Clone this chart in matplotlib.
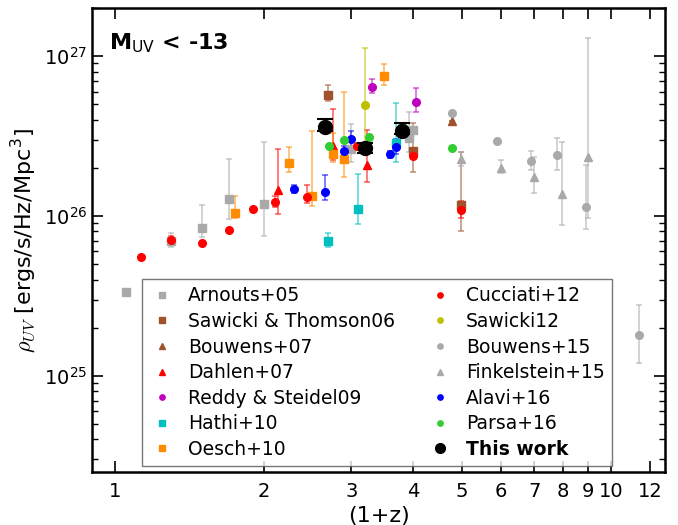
import matplotlib
matplotlib.use("Agg")
import matplotlib.pyplot as plt
import numpy as np
from matplotlib.ticker import FixedLocator, FixedFormatter, NullLocator

# ---------------- data (1+z, rho, lower, upper) ----------------
arnouts_x = [1.052, 1.30, 1.50, 1.70, 2.00, 3.00, 4.00, 3.91]
arnouts_y = [3.33e25, 6.92e25, 8.41e25, 1.28e26, 1.19e26, 2.61e26, 3.45e26, 3.09e26]
arnouts_lo = [3.33e25, 6.37e25, 7.36e25, 9.63e25, 7.44e25, 2.16e26, 3.45e26, 2.51e26]
arnouts_hi = [3.33e25, 7.80e25, 1.17e26, 2.26e26, 2.90e26, 3.78e26, 3.45e26, 4.47e26]

st06_x = [2.69, 4.00, 4.99]
st06_y = [5.70e26, 2.55e26, 1.17e26]
st06_lo = [5.24e26, 1.87e26, 8.06e25]
st06_hi = [6.59e26, 3.80e26, 2.51e26]

bouwens07_x = [4.79]
bouwens07_y = [3.92e26]
bouwens07_lo = [3.92e26]
bouwens07_hi = [3.92e26]

dahlen_x = [2.13, 2.75, 3.22]
dahlen_y = [1.45e26, 2.74e26, 2.08e26]
dahlen_lo = [1.03e26, 2.24e26, 1.64e26]
dahlen_hi = [2.62e26, 4.69e26, 3.45e26]

reddy_x = [3.30, 4.05]
reddy_y = [6.40e26, 5.19e26]
reddy_lo = [5.85e26, 4.45e26]
reddy_hi = [7.15e26, 6.28e26]

hathi_x = [2.69, 3.09, 3.69]
hathi_y = [6.92e25, 1.11e26, 2.84e26]
hathi_lo = [6.35e25, 8.87e25, 2.18e26]
hathi_hi = [7.80e25, 1.83e26, 5.12e26]

oesch_x = [1.75, 2.25, 2.50, 2.75, 2.90, 3.49]
oesch_y = [1.04e26, 2.14e26, 1.33e26, 2.44e26, 2.27e26, 7.50e26]
oesch_lo = [9.68e25, 1.88e26, 1.15e26, 2.16e26, 1.75e26, 6.56e26]
oesch_hi = [1.33e26, 2.70e26, 3.38e26, 3.32e26, 5.99e26, 8.97e26]

cucciati_x = [1.13, 1.30, 1.50, 1.70, 1.90, 2.10, 2.44, 3.08, 4.00, 4.99]
cucciati_y = [5.52e25, 7.05e25, 6.82e25, 8.22e25, 1.10e26, 1.23e26, 1.31e26, 2.74e26, 2.37e26, 1.09e26]
cucciati_lo = [5.52e25, 6.60e25, 6.82e25, 8.22e25, 1.10e26, 1.13e26, 1.20e26, 2.74e26, 2.37e26, 9.77e25]
cucciati_hi = [5.52e25, 7.50e25, 6.82e25, 8.22e25, 1.10e26, 1.33e26, 1.56e26, 2.74e26, 2.37e26, 1.24e26]

sawicki12_x = [3.19, 3.19]
sawicki12_y = [4.92e26, 2.55e26]
sawicki12_lo = [2.68e26, 2.55e26]
sawicki12_hi = [1.12e27, 2.55e26]

bouwens15_x = [4.79, 5.88, 6.89, 7.79, 8.90, 11.37]
bouwens15_y = [4.39e26, 2.94e26, 2.22e26, 2.39e26, 1.14e26, 1.79e25]
bouwens15_lo = [4.39e26, 2.94e26, 1.94e26, 1.94e26, 8.34e25, 1.20e25]
bouwens15_hi = [4.39e26, 2.94e26, 2.55e26, 3.09e26, 2.08e26, 2.78e25]

finkel_x = [4.99, 5.99, 6.99, 7.98, 8.99]
finkel_y = [2.28e26, 1.99e26, 1.74e26, 1.37e26, 2.35e26]
finkel_lo = [2.05e26, 1.85e26, 1.40e26, 8.78e25, 9.68e25]
finkel_hi = [2.51e26, 2.24e26, 2.35e26, 2.90e26, 1.30e27]

alavi_x = [2.30, 2.65, 2.90, 3.00, 3.59, 3.69]
alavi_y = [1.48e26, 1.42e26, 2.56e26, 3.01e26, 2.43e26, 2.70e26]
alavi_lo = [1.40e26, 1.25e26, 2.40e26, 2.74e26, 2.30e26, 2.43e26]
alavi_hi = [1.56e26, 1.80e26, 2.72e26, 3.40e26, 2.56e26, 3.01e26]

parsa_x = [2.70, 2.90, 3.25, 3.79, 4.79]
parsa_y = [2.74e26, 2.98e26, 3.10e26, 3.65e26, 2.65e26]

this_x = [2.65, 3.19, 3.79]
this_y = [3.62e26, 2.68e26, 3.40e26]
this_lo = [3.38e26, 2.48e26, 3.24e26]
this_hi = [4.02e26, 2.88e26, 3.79e26]

xtick_vals = [1, 2, 3, 4, 5, 6, 7, 8, 9, 10, 12]
xtick_labels = ['1', '2', '3', '4', '5', '6', '7', '8', '9', '10', '12']

# ---------------- plotting ----------------
plt.rcParams['font.family'] = ['DejaVu Sans']
fig = plt.figure(figsize=(6.78, 5.25), dpi=100)
ax = fig.add_axes([92/678, 1-472/525, (665-92)/678, (472-8)/525])
ax.set_xscale('log')
ax.set_yscale('log')


def series(x, y, lo, hi, marker, color, label, ms=5.5, z=3, ecol=None, lw=1.3, cap=2.5, ealpha=0.55):
    x = np.asarray(x); y = np.asarray(y)
    if lo is not None:
        lo = np.asarray(lo); hi = np.asarray(hi)
        yerr = np.vstack([y - lo, hi - y])
        ax.errorbar(x, y, yerr=yerr, fmt='none', ecolor=ecol or color, elinewidth=lw,
                    capsize=cap, capthick=lw, alpha=ealpha, zorder=z)
    h, = ax.plot(x, y, linestyle='none', marker=marker, color=color, mec=color,
                 ms=ms, label=label, zorder=z + 0.5)
    return h

gray = '#A9A9A9'
handles = []
handles.append(series(arnouts_x, arnouts_y, arnouts_lo, arnouts_hi, 's', gray, 'Arnouts+05'))
handles.append(series(st06_x, st06_y, st06_lo, st06_hi, 's', '#A0522D', 'Sawicki & Thomson06'))
handles.append(series(bouwens07_x, bouwens07_y, bouwens07_lo, bouwens07_hi, '^', '#A0522D', 'Bouwens+07'))
handles.append(series(dahlen_x, dahlen_y, dahlen_lo, dahlen_hi, '^', 'red', 'Dahlen+07'))
handles.append(series(reddy_x, reddy_y, reddy_lo, reddy_hi, 'o', '#BF00BF', 'Reddy & Steidel09'))
handles.append(series(hathi_x, hathi_y, hathi_lo, hathi_hi, 's', '#00BFBF', 'Hathi+10'))
handles.append(series(oesch_x, oesch_y, oesch_lo, oesch_hi, 's', '#FF8C00', 'Oesch+10'))
handles.append(series(cucciati_x, cucciati_y, cucciati_lo, cucciati_hi, 'o', 'red', 'Cucciati+12'))
handles.append(series(sawicki12_x, sawicki12_y, sawicki12_lo, sawicki12_hi, 'o', '#BFBF00', 'Sawicki12'))
handles.append(series(bouwens15_x, bouwens15_y, bouwens15_lo, bouwens15_hi, 'o', gray, 'Bouwens+15'))
handles.append(series(finkel_x, finkel_y, finkel_lo, finkel_hi, '^', gray, 'Finkelstein+15'))
handles.append(series(alavi_x, alavi_y, alavi_lo, alavi_hi, 'o', 'blue', 'Alavi+16'))
handles.append(series(parsa_x, parsa_y, None, None, 'o', '#32CD32', 'Parsa+16'))
handles.append(series(this_x, this_y, this_lo, this_hi, 'o', 'black', 'This work', ms=10, z=6,
                      lw=1.5, cap=5.5, ealpha=1.0))

ax.set_xlim(0.9, 12.85)
ax.set_ylim(2.5e24, 2e27)

ax.xaxis.set_major_locator(FixedLocator(xtick_vals))
ax.xaxis.set_major_formatter(FixedFormatter(xtick_labels))
ax.xaxis.set_minor_locator(NullLocator())

ax.tick_params(which='both', direction='in', top=True, right=True, labelsize=14)
ax.tick_params(which='major', length=8, width=1.2)
ax.tick_params(which='minor', length=4, width=1.0)
ax.tick_params(axis='x', pad=7)
for s in ax.spines.values():
    s.set_linewidth(1.8)

ax.set_xlabel('(1+z)', fontsize=16)
ax.set_ylabel(r'$\rho_{UV}$ [ergs/s/Hz/Mpc$^{\mathdefault{3}}$]', fontsize=16, math_fontfamily='cm')

ax.text(0.03, 0.925, r'M$_{\mathrm{UV}}$ < -13', transform=ax.transAxes, fontsize=16,
        fontweight='bold', va='center', ha='left', math_fontfamily='dejavusans')

leg = ax.legend(handles=handles, ncol=2, loc='lower center', bbox_to_anchor=(0.4975, 0.013),
                borderaxespad=0.0,
                fontsize=13.5, markerscale=0.7, frameon=True, fancybox=False,
                labelspacing=0.35, columnspacing=1.75, handletextpad=0.75, borderpad=0.38,
                handlelength=1.3)
leg.get_frame().set_edgecolor('#555555')
leg.get_frame().set_linewidth(1.0)
for t in leg.get_texts():
    if t.get_text() == 'This work':
        t.set_fontweight('bold')

fig.savefig('out.png', dpi=100)
